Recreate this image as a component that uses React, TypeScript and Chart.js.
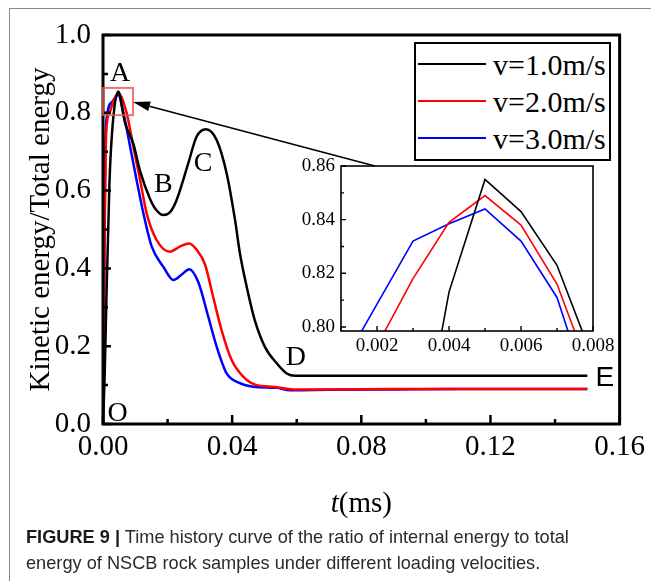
import React, { useEffect, useRef } from 'react';
import { Chart, registerables } from 'chart.js';

Chart.register(...registerables);

// ---------- series (main plot) ----------
const SERIES_LABELS = ['v=1.0m/s', 'v=2.0m/s', 'v=3.0m/s'];
const SERIES_COLORS = ['#000000', '#ff0000', '#0000ff'];

const blackT = [0, 0.0005, 0.001, 0.002, 0.003, 0.0047, 0.0068, 0.0094, 0.0115, 0.0145, 0.0165, 0.0187, 0.0208, 0.0228, 0.0264, 0.029, 0.0319, 0.0352, 0.0383, 0.0409, 0.0424, 0.0445, 0.047, 0.0501, 0.0538, 0.0569, 0.0595, 0.08, 0.11, 0.15];
const blackV = [0, 0.12, 0.3, 0.62, 0.77, 0.855, 0.775, 0.72, 0.65, 0.58, 0.55, 0.537, 0.545, 0.576, 0.67, 0.739, 0.758, 0.73, 0.644, 0.524, 0.439, 0.353, 0.267, 0.199, 0.156, 0.13, 0.124, 0.124, 0.124, 0.124];

const redT = [0, 0.0004, 0.001, 0.002, 0.0035, 0.0047, 0.0073, 0.0094, 0.0115, 0.0135, 0.0166, 0.0207, 0.0238, 0.0267, 0.029, 0.0316, 0.0341, 0.0367, 0.0398, 0.0434, 0.0476, 0.0527, 0.059, 0.07, 0.09, 0.11, 0.13, 0.15];
const redV = [0, 0.4, 0.75, 0.8, 0.835, 0.85, 0.8, 0.713, 0.627, 0.542, 0.473, 0.443, 0.456, 0.464, 0.448, 0.41, 0.327, 0.242, 0.165, 0.122, 0.1, 0.096, 0.089, 0.089, 0.09, 0.09, 0.09, 0.09];

const blueT = [0, 0.0003, 0.0007, 0.0012, 0.003, 0.0047, 0.0063, 0.0084, 0.0104, 0.0125, 0.0151, 0.0187, 0.0218, 0.0245, 0.0267, 0.0295, 0.0326, 0.0352, 0.0383, 0.0424, 0.0465, 0.0537, 0.058, 0.07, 0.09, 0.11, 0.13, 0.15];
const blueV = [0, 0.3, 0.7, 0.79, 0.83, 0.846, 0.8, 0.713, 0.627, 0.542, 0.456, 0.404, 0.37, 0.385, 0.398, 0.365, 0.276, 0.199, 0.13, 0.105, 0.096, 0.093, 0.087, 0.088, 0.089, 0.09, 0.09, 0.09];

// ---------- series (inset, zoom of the first peak) ----------
const insetT = [0.001, 0.002, 0.003, 0.004, 0.005, 0.006, 0.007, 0.008];
const insetBlackV = [0.3, 0.62, 0.74, 0.813, 0.855, 0.843, 0.823, 0.788];
const insetRedV = [0.75, 0.793, 0.818, 0.839, 0.849, 0.838, 0.816, 0.78];
const insetBlueV = [0.785, 0.8085, 0.832, 0.8385, 0.844, 0.832, 0.811, 0.77];

// ---------- ticks ----------
const xTicks = [0, 0.02, 0.04, 0.06, 0.08, 0.1, 0.12, 0.14, 0.16];
const xLabelTicks = [0, 0.04, 0.08, 0.12, 0.16];
const yTicks = [0, 0.1, 0.2, 0.3, 0.4, 0.5, 0.6, 0.7, 0.8, 0.9, 1.0];
const yLabelTicks = [0, 0.2, 0.4, 0.6, 0.8, 1.0];
const insetXTicks = [0.001, 0.002, 0.003, 0.004, 0.005, 0.006, 0.007, 0.008];
const insetXLabelTicks = [0.002, 0.004, 0.006, 0.008];
const insetYTicks = [0.8, 0.81, 0.82, 0.83, 0.84, 0.85, 0.86];
const insetYLabelTicks = [0.8, 0.82, 0.84, 0.86];

// ---------- annotations (data coordinates) ----------
const pointLabels = [
  { text: 'A', t: 0.0053, v: 0.905, sans: false },
  { text: 'B', t: 0.0187, v: 0.621, sans: false },
  { text: 'C', t: 0.031, v: 0.674, sans: false },
  { text: 'D', t: 0.0597, v: 0.177, sans: false },
  { text: 'E', t: 0.1554, v: 0.123, sans: true },
  { text: 'O', t: 0.0045, v: 0.031, sans: false },
];
const zoomBox = { t0: 0, t1: 0.0093, v0: 0.794, v1: 0.864 };
const arrowFrom = { t: 0.0842, v: 0.663 };
const arrowTo = { t: 0.0093, v: 0.828 };

const SERIF = '"Liberation Serif", "Times New Roman", serif';
const SANS = '"Liberation Sans", Arial, sans-serif';

const near = (list: number[], v: number) => list.some((x) => Math.abs(x - v) < 1e-9);
const toPoints = (ts: number[], vs: number[]) => ts.map((t, i) => ({ x: t, y: vs[i] }));

const mainDecor = {
  id: 'mainDecor',
  afterDatasetsDraw(chart: any) {
    const { ctx, chartArea: a, scales } = chart;
    const x = scales.x;
    const y = scales.y;
    ctx.save();
    // frame
    ctx.strokeStyle = '#000';
    ctx.lineWidth = 3;
    ctx.strokeRect(a.left, a.top, a.right - a.left, a.bottom - a.top);
    // inward ticks
    ctx.lineWidth = 2.5;
    ctx.beginPath();
    for (const v of xTicks) {
      const px = x.getPixelForValue(v);
      const len = near(xLabelTicks, v) ? 9 : 5;
      ctx.moveTo(px, a.bottom);
      ctx.lineTo(px, a.bottom - len);
    }
    for (const v of yTicks) {
      const py = y.getPixelForValue(v);
      const len = near(yLabelTicks, v) ? 8 : 5;
      ctx.moveTo(a.left, py);
      ctx.lineTo(a.left + len, py);
    }
    ctx.stroke();
    // zoom box
    const bx0 = x.getPixelForValue(zoomBox.t0);
    const bx1 = x.getPixelForValue(zoomBox.t1);
    const by0 = y.getPixelForValue(zoomBox.v0);
    const by1 = y.getPixelForValue(zoomBox.v1);
    ctx.strokeStyle = 'rgba(235,80,80,0.8)';
    ctx.lineWidth = 2;
    ctx.strokeRect(bx0, by1, bx1 - bx0, by0 - by1);
    // arrow
    const ax0 = x.getPixelForValue(arrowFrom.t);
    const ay0 = y.getPixelForValue(arrowFrom.v);
    const ax1 = x.getPixelForValue(arrowTo.t);
    const ay1 = y.getPixelForValue(arrowTo.v);
    const ang = Math.atan2(ay1 - ay0, ax1 - ax0);
    const headLen = 17;
    const headW = 5;
    const hx = ax1 - headLen * Math.cos(ang);
    const hy = ay1 - headLen * Math.sin(ang);
    ctx.strokeStyle = '#000';
    ctx.fillStyle = '#000';
    ctx.lineWidth = 1.6;
    ctx.beginPath();
    ctx.moveTo(ax0, ay0);
    ctx.lineTo(hx, hy);
    ctx.stroke();
    ctx.beginPath();
    ctx.moveTo(ax1, ay1);
    ctx.lineTo(hx + headW * Math.sin(ang), hy - headW * Math.cos(ang));
    ctx.lineTo(hx - headW * Math.sin(ang), hy + headW * Math.cos(ang));
    ctx.closePath();
    ctx.fill();
    // point labels
    ctx.textAlign = 'center';
    ctx.textBaseline = 'alphabetic';
    for (const p of pointLabels) {
      ctx.font = `28px ${p.sans ? SANS : SERIF}`;
      ctx.fillText(p.text, x.getPixelForValue(p.t), y.getPixelForValue(p.v) + 9.5);
    }
    // x axis title: italic t + (ms)
    const italic = `italic 29px ${SERIF}`;
    const normal = `29px ${SERIF}`;
    ctx.font = italic;
    const w1 = ctx.measureText('t').width;
    ctx.font = normal;
    const w2 = ctx.measureText('(ms)').width;
    const sx = (a.left + a.right) / 2 - (w1 + w2) / 2;
    ctx.textAlign = 'left';
    ctx.font = italic;
    ctx.fillText('t', sx, a.bottom + 88);
    ctx.font = normal;
    ctx.fillText('(ms)', sx + w1, a.bottom + 88);
    ctx.restore();
  },
};

const insetDecor = {
  id: 'insetDecor',
  afterDatasetsDraw(chart: any) {
    const { ctx, chartArea: a, scales } = chart;
    const x = scales.x;
    const y = scales.y;
    ctx.save();
    ctx.strokeStyle = '#000';
    ctx.lineWidth = 1.6;
    ctx.strokeRect(a.left, a.top, a.right - a.left, a.bottom - a.top);
    ctx.lineWidth = 1.4;
    ctx.beginPath();
    for (const v of insetXTicks) {
      const px = x.getPixelForValue(v);
      const len = near(insetXLabelTicks, v) ? 5 : 3;
      ctx.moveTo(px, a.bottom);
      ctx.lineTo(px, a.bottom - len);
    }
    for (const v of insetYTicks) {
      const py = y.getPixelForValue(v);
      const len = near(insetYLabelTicks, v) ? 5 : 3;
      ctx.moveTo(a.left, py);
      ctx.lineTo(a.left + len, py);
    }
    ctx.stroke();
    ctx.restore();
  },
};

const dummyAxis = (position: string, size: number) => ({
  type: 'linear',
  position,
  min: 0,
  max: 1,
  display: true,
  ticks: { display: false },
  grid: { display: false, drawTicks: false },
  border: { display: false },
  afterFit: (s: any) => {
    if (position === 'top' || position === 'bottom') s.height = size;
    else s.width = size;
  },
});

export default function App() {
  const mainRef = useRef<HTMLCanvasElement | null>(null);
  const insetRef = useRef<HTMLCanvasElement | null>(null);

  useEffect(() => {
    const tickFont = { family: SERIF, size: 29 };
    const main = new Chart(mainRef.current as HTMLCanvasElement, {
      type: 'line',
      data: {
        datasets: [
          { label: SERIES_LABELS[0], data: toPoints(blackT, blackV), borderColor: SERIES_COLORS[0] },
          { label: SERIES_LABELS[1], data: toPoints(redT, redV), borderColor: SERIES_COLORS[1] },
          { label: SERIES_LABELS[2], data: toPoints(blueT, blueV), borderColor: SERIES_COLORS[2] },
        ].map((d) => ({
          ...d,
          borderWidth: 2.5,
          pointRadius: 0,
          fill: false,
          cubicInterpolationMode: 'monotone' as const,
          clip: 0,
          xAxisID: 'x',
          yAxisID: 'y',
        })),
      },
      options: {
        responsive: false,
        animation: false,
        devicePixelRatio: 1,
        layout: { padding: 0 },
        plugins: { legend: { display: false }, tooltip: { enabled: false } },
        scales: {
          x: {
            type: 'linear',
            position: 'bottom',
            min: 0,
            max: 0.16,
            afterBuildTicks: (s: any) => {
              s.ticks = xTicks.map((v) => ({ value: v }));
            },
            ticks: {
              autoSkip: false,
              maxRotation: 0,
              padding: 6,
              color: '#000',
              font: tickFont,
              callback: (v: any) => (near(xLabelTicks, Number(v)) ? Number(v).toFixed(2) : ''),
            },
            grid: { display: false, drawTicks: false },
            border: { display: false },
            afterFit: (s: any) => {
              s.height = 157;
            },
          },
          y: {
            type: 'linear',
            position: 'left',
            min: 0,
            max: 1.0,
            afterBuildTicks: (s: any) => {
              s.ticks = yTicks.map((v) => ({ value: v }));
            },
            ticks: {
              autoSkip: false,
              padding: 12,
              color: '#000',
              font: tickFont,
              callback: (v: any) => (near(yLabelTicks, Number(v)) ? Number(v).toFixed(1) : ''),
            },
            title: {
              display: true,
              text: 'Kinetic energy/Total energy',
              color: '#000',
              font: { family: SERIF, size: 29 },
              padding: { top: 24, bottom: 0 },
            },
            grid: { display: false, drawTicks: false },
            border: { display: false },
            afterFit: (s: any) => {
              s.width = 103;
            },
          },
          xTop: dummyAxis('top', 35) as any,
          yRight: dummyAxis('right', 31) as any,
        },
      },
      plugins: [mainDecor],
    } as any);

    const insetFont = { family: SERIF, size: 19 };
    const inset = new Chart(insetRef.current as HTMLCanvasElement, {
      type: 'line',
      data: {
        datasets: [
          { label: SERIES_LABELS[0], data: toPoints(insetT, insetBlackV), borderColor: SERIES_COLORS[0] },
          { label: SERIES_LABELS[1], data: toPoints(insetT, insetRedV), borderColor: SERIES_COLORS[1] },
          { label: SERIES_LABELS[2], data: toPoints(insetT, insetBlueV), borderColor: SERIES_COLORS[2] },
        ].map((d) => ({
          ...d,
          borderWidth: 1.6,
          pointRadius: 0,
          fill: false,
          tension: 0,
          clip: 0,
          xAxisID: 'x',
          yAxisID: 'y',
        })),
      },
      options: {
        responsive: false,
        animation: false,
        devicePixelRatio: 1,
        layout: { padding: 0 },
        plugins: { legend: { display: false }, tooltip: { enabled: false } },
        scales: {
          x: {
            type: 'linear',
            position: 'bottom',
            min: 0.001,
            max: 0.008,
            afterBuildTicks: (s: any) => {
              s.ticks = insetXTicks.map((v) => ({ value: v }));
            },
            ticks: {
              autoSkip: false,
              maxRotation: 0,
              padding: 4,
              color: '#000',
              font: insetFont,
              callback: (v: any) => (near(insetXLabelTicks, Number(v)) ? Number(v).toFixed(3) : ''),
            },
            grid: { display: false, drawTicks: false },
            border: { display: false },
            afterFit: (s: any) => {
              s.height = 30;
            },
          },
          y: {
            type: 'linear',
            position: 'left',
            min: 0.7985,
            max: 0.86,
            afterBuildTicks: (s: any) => {
              s.ticks = insetYTicks.map((v) => ({ value: v }));
            },
            ticks: {
              autoSkip: false,
              padding: 6,
              color: '#000',
              font: insetFont,
              callback: (v: any) => (near(insetYLabelTicks, Number(v)) ? Number(v).toFixed(2) : ''),
            },
            grid: { display: false, drawTicks: false },
            border: { display: false },
            afterFit: (s: any) => {
              s.width = 51;
            },
          },
          xTop: dummyAxis('top', 20) as any,
          yRight: dummyAxis('right', 27) as any,
        },
      },
      plugins: [insetDecor],
    } as any);

    return () => {
      main.destroy();
      inset.destroy();
    };
  }, []);

  return (
    <div style={{ position: 'fixed', left: 0, top: 0, width: 651, height: 581, overflow: 'hidden', background: '#fff' }}>
      <div style={{ position: 'absolute', left: 9, top: 8, width: 800, height: 800, border: '1px solid #8a8a8a' }} />
      <canvas
        ref={mainRef}
        width={651}
        height={581}
        style={{ position: 'absolute', left: 0, top: 0, width: 651, height: 581 }}
      />
      <canvas
        ref={insetRef}
        width={330}
        height={215}
        style={{ position: 'absolute', left: 290, top: 146, width: 330, height: 215 }}
      />
      <div
        style={{
          position: 'absolute',
          left: 414,
          top: 42,
          width: 197,
          height: 119,
          border: '2.5px solid #000',
          boxSizing: 'border-box',
          background: '#fff',
        }}
      />
      {SERIES_LABELS.map((lab, i) => (
        <React.Fragment key={lab}>
          <div
            style={{
              position: 'absolute',
              left: 418,
              top: 62.5 + 37 * i,
              width: 68,
              height: 2,
              background: SERIES_COLORS[i],
            }}
          />
          <div
            style={{
              position: 'absolute',
              left: 493,
              top: 63.5 + 37 * i - 16.5,
              font: `30px ${SERIF}`,
              lineHeight: '36px',
              whiteSpace: 'nowrap',
              color: '#000',
            }}
          >
            {lab}
          </div>
        </React.Fragment>
      ))}
      <div
        style={{
          position: 'absolute',
          left: 26,
          top: 525.1,
          font: `18.2px ${SANS}`,
          lineHeight: '25.7px',
          color: '#2a2a2a',
          whiteSpace: 'nowrap',
        }}
      >
        <span style={{ fontWeight: 'bold', color: '#1a1a1a' }}>FIGURE 9 |</span> Time history curve of the ratio of internal
        energy to total
        <br />
        energy of NSCB rock samples under different loading velocities.
      </div>
    </div>
  );
}
